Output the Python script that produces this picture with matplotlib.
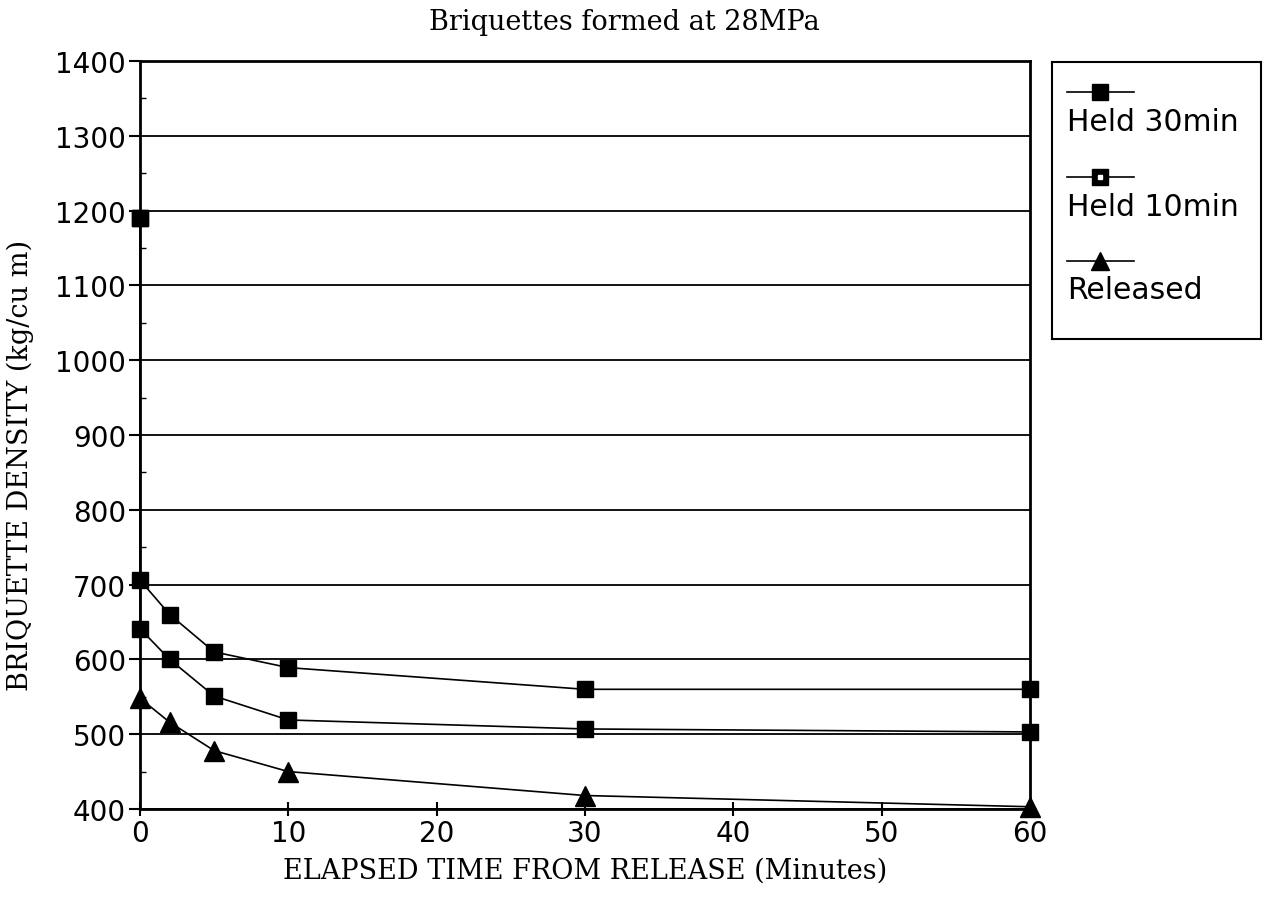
import matplotlib
matplotlib.use("Agg")
import matplotlib.pyplot as plt
from matplotlib.lines import Line2D
from matplotlib.ticker import MultipleLocator

plt.rcParams["font.family"] = ["DejaVu Sans"]

# data
time_30 = [0, 0, 2, 5, 10, 30, 60]
held_30 = [1190, 706, 660, 610, 589, 560, 560]

time_10 = [0, 0, 2, 5, 10, 30, 60]
held_10 = [1190, 641, 600, 551, 519, 507, 503]

time_rel = [0, 2, 5, 10, 30, 60]
released = [548, 516, 478, 450, 418, 403]

series_labels = ["Held 30min", "Held 10min", "Released"]
x_ticks = [0, 10, 20, 30, 40, 50, 60]

fig = plt.figure(figsize=(12.66, 9.04), dpi=100)
ax = fig.add_axes([0.1106, 0.104, 0.7030, 0.8274])

line_kw = dict(color="black", lw=1.2, markeredgecolor="black", markerfacecolor="black", clip_on=False, zorder=3)
ax.plot(time_30, held_30, marker="s", ms=12, **line_kw)
ax.plot(time_10, held_10, marker="s", ms=12, **line_kw)
ax.plot(time_rel, released, marker="^", ms=15, **line_kw)

ax.set_xlim(0, 60)
ax.set_ylim(400, 1400)
ax.set_xticks(x_ticks)
ax.yaxis.set_major_locator(MultipleLocator(100))
ax.yaxis.set_minor_locator(MultipleLocator(50))
ax.grid(axis="y", color="black", lw=1.3)
ax.set_axisbelow(True)
for s in ax.spines.values():
    s.set_linewidth(2)
ax.tick_params(axis="y", which="major", direction="out", length=8, width=1.5, labelsize=20, pad=2)
ax.tick_params(axis="y", which="minor", direction="in", length=4, width=1)
ax.tick_params(axis="x", which="major", direction="inout", length=10, width=1.5, labelsize=20, pad=2)

serif = ["DejaVu Serif"]
fig.text(0.493, 0.975, "Briquettes formed at 28MPa", ha="center", va="center", fontsize=19.5, family=serif)
fig.text(0.462, 0.036, "ELAPSED TIME FROM RELEASE (Minutes)", ha="center", va="center", fontsize=19.5, family=serif)
fig.text(0.016, 0.485, "BRIQUETTE DENSITY (kg/cu m)", ha="center", va="center", rotation=90, fontsize=19.5, family=serif)

# legend box with handle above each label
lax = fig.add_axes([0.831, 0.624, 0.165, 0.306])
lax.set_xlim(0, 1)
lax.set_ylim(0, 1)
lax.set_xticks([])
lax.set_yticks([])
for s in lax.spines.values():
    s.set_linewidth(1.5)
markers = ["s", "s", "^"]
handle_y = [0.892, 0.585, 0.282]
text_y = [0.787, 0.48, 0.18]
for lab, mk, hy, ty in zip(series_labels, markers, handle_y, text_y):
    lax.add_line(Line2D([0.07, 0.39], [hy, hy], color="black", lw=1.2))
    lax.add_line(Line2D([0.23], [hy], marker=mk, ms=11 if mk == "s" else 13, color="black"))
    lax.text(0.07, ty, lab, ha="left", va="center", fontsize=21.5)
lax.add_line(Line2D([0.23], [handle_y[1]], marker="s", ms=3, color="white"))

fig.savefig("out.png", dpi=100)
